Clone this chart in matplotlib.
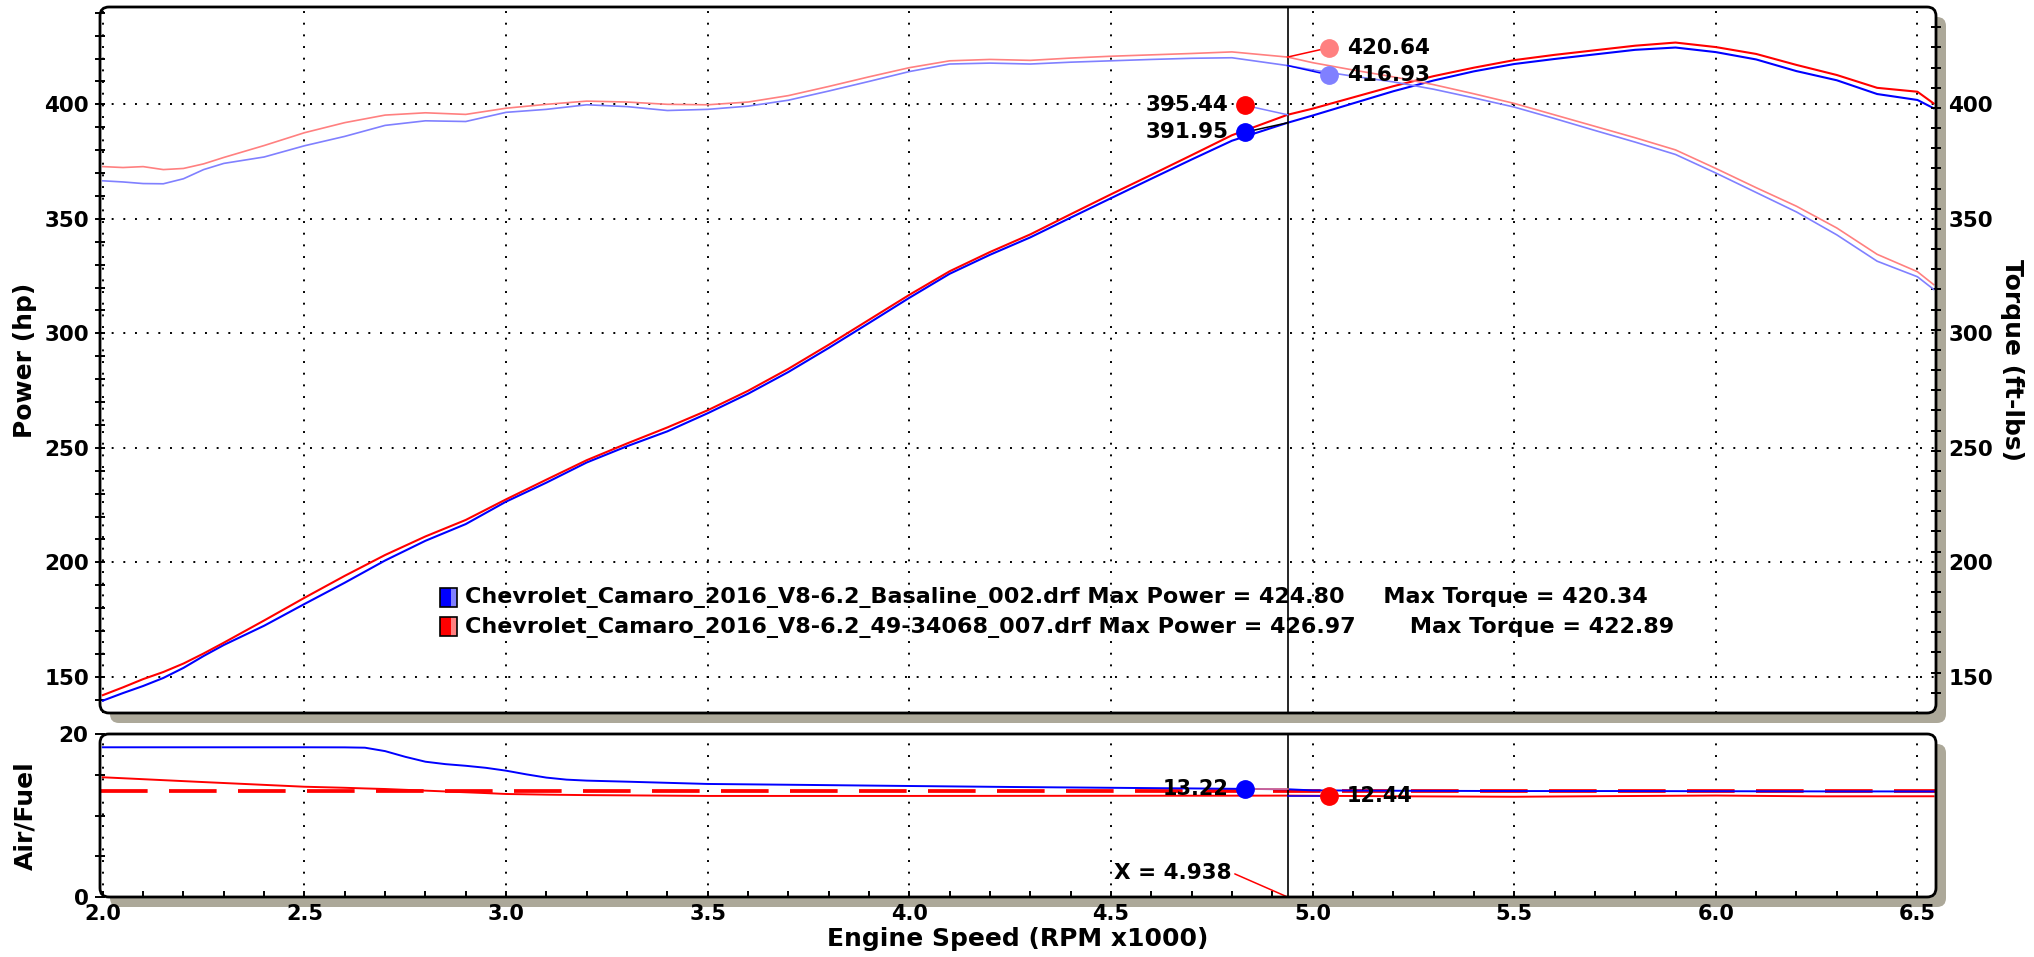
import numpy as np
import matplotlib
matplotlib.use('Agg')
import matplotlib.pyplot as plt
from matplotlib.patches import FancyBboxPatch, Rectangle
from matplotlib.transforms import IdentityTransform

plt.rcParams['font.family'] = ['DejaVu Sans']
plt.rcParams['font.weight'] = 'bold'

# engine speed (RPM x1000)
rpm = [2.00, 2.05, 2.10, 2.15, 2.20, 2.25, 2.30, 2.40, 2.50, 2.60,
       2.70, 2.80, 2.90, 3.00, 3.10, 3.20, 3.30, 3.40, 3.50, 3.60,
       3.70, 3.80, 3.90, 4.00, 4.10, 4.20, 4.30, 4.40, 4.50, 4.60,
       4.70, 4.80, 4.938, 5.00, 5.10, 5.20, 5.30, 5.40, 5.50, 5.60,
       5.70, 5.80, 5.90, 6.00, 6.10, 6.20, 6.30, 6.40, 6.50, 6.54]

# power (hp)
power_base = [139.6, 142.9, 146.0, 149.5, 153.9, 159.1, 163.9, 172.3, 181.8, 191.1,
              200.8, 209.4, 216.7, 226.5, 234.8, 243.6, 250.7, 257.2, 265.1, 273.6,
              283.1, 293.6, 304.5, 315.5, 326.0, 334.3, 341.9, 350.5, 359.0, 367.5,
              375.9, 384.1, 391.95, 395.1, 400.4, 405.7, 410.4, 414.4, 417.6, 419.8,
              421.8, 423.8, 424.80, 422.8, 419.6, 414.5, 410.5, 404.5, 401.9, 398.3]
power_new = [142.0, 145.4, 149.0, 152.1, 155.8, 160.2, 164.9, 174.6, 184.5, 194.1,
             203.2, 211.3, 218.5, 227.5, 236.1, 244.6, 251.9, 258.9, 266.4, 274.9,
             284.5, 295.0, 305.9, 316.8, 327.1, 335.5, 343.2, 352.0, 360.7, 369.2,
             377.8, 386.5, 395.44, 398.1, 403.0, 407.9, 412.3, 416.0, 419.3, 421.6,
             423.6, 425.6, 426.97, 425.0, 422.0, 417.2, 412.8, 407.2, 405.5, 400.4]

# torque (ft-lbs)
torque_base = [366.6, 366.1, 365.4, 365.3, 367.5, 371.5, 374.2, 377.0, 381.9, 386.0,
               390.8, 392.8, 392.5, 396.5, 397.8, 399.8, 399.0, 397.3, 397.8, 399.2,
               401.8, 405.8, 410.0, 414.3, 417.6, 418.0, 417.6, 418.4, 419.0, 419.6,
               420.1, 420.34, 416.93, 415.0, 412.3, 409.8, 406.6, 402.8, 398.8, 393.8,
               388.6, 383.5, 378.1, 370.0, 361.5, 353.0, 343.0, 331.5, 324.7, 319.2]
torque_new = [372.8, 372.4, 372.8, 371.5, 372.0, 374.0, 376.8, 382.0, 387.6, 392.0,
              395.3, 396.3, 395.6, 398.3, 400.0, 401.4, 401.0, 400.0, 399.8, 401.0,
              403.8, 407.8, 412.0, 416.0, 419.0, 419.6, 419.2, 420.2, 421.0, 421.6,
              422.2, 422.89, 420.64, 418.2, 415.0, 412.0, 408.6, 404.6, 400.4, 395.4,
              390.4, 385.4, 380.1, 372.0, 363.6, 355.5, 346.0, 334.5, 326.9, 321.3]

# air / fuel
afr_rpm = [2.0, 2.25, 2.5, 2.6, 2.65, 2.7, 2.75, 2.8, 2.85, 2.9,
           2.95, 3.0, 3.05, 3.1, 3.15, 3.2, 3.3, 3.5, 3.75, 4.0,
           4.25, 4.5, 4.75, 4.938, 5.0, 5.25, 5.5, 5.75, 6.0, 6.25, 6.54]
afr_base = [18.37, 18.37, 18.37, 18.36, 18.32, 17.9, 17.2, 16.6, 16.3, 16.1,
            15.85, 15.5, 15.05, 14.65, 14.4, 14.28, 14.15, 13.87, 13.75, 13.62,
            13.5, 13.4, 13.3, 13.22, 13.08, 13.03, 13.0, 13.0, 12.98, 12.96, 12.95]
afr_new = [14.69, 14.1, 13.53, 13.4, 13.32, 13.25, 13.15, 13.05, 12.95, 12.85,
           12.75, 12.64, 12.6, 12.56, 12.53, 12.5, 12.47, 12.4, 12.4, 12.4,
           12.41, 12.42, 12.43, 12.44, 12.42, 12.35, 12.3, 12.38, 12.45, 12.35, 12.36]
afr_target = 13.0

cursor = 4.938
runs = ['Chevrolet_Camaro_2016_V8-6.2_Basaline_002.drf',
        'Chevrolet_Camaro_2016_V8-6.2_49-34068_007.drf']
max_power = [424.80, 426.97]
max_torque = [420.34, 422.89]
gaps = ['     ', '       ']

x_ticks = [2.0, 2.5, 3.0, 3.5, 4.0, 4.5, 5.0, 5.5, 6.0, 6.5]
power_ticks = [150, 200, 250, 300, 350, 400]
torque_ticks = [150, 200, 250, 300, 350, 400]
afr_ticks = [0, 5, 10, 15, 20]
afr_labels = ['0', '', '', '', '20']

W, H, DPI = 2034, 957, 100
BLUE, RED = '#0000ff', '#ff0000'
LBLUE, LRED = '#8080ff', '#ff8080'
SHADOW = '#aca899'
DOTS = (0, (1, 5))
XLIM = (1.993, 6.546)
YLIM = (134.2, 442.5)

fig = plt.figure(figsize=(W / DPI, H / DPI), dpi=DPI)


def rect(l, t, r, b):
    return [l / W, 1 - b / H, (r - l) / W, (b - t) / H]


def add_box(l, t, r, b):
    # rounded frame with grey drop shadow, in pixels
    for dx, dy, fc, ec, z in [(10, -10, SHADOW, 'none', -3),
                              (0, 0, 'white', 'none', -2),
                              (0, 0, 'none', 'black', 10)]:
        p = FancyBboxPatch((l + dx, H - b + dy), r - l, b - t,
                           boxstyle='round,pad=0,rounding_size=9',
                           fc=fc, ec=ec, lw=2, transform=IdentityTransform(), zorder=z)
        fig.add_artist(p)


main_box = (100, 7, 1936, 713)
afr_box = (100, 734, 1936, 897)
add_box(*main_box)
add_box(*afr_box)

ax = fig.add_axes(rect(*main_box))
ax2 = ax.twinx()
ax3 = fig.add_axes(rect(*afr_box))
for a in (ax, ax2, ax3):
    a.set_facecolor('none')
    for s in a.spines.values():
        s.set_visible(False)

# main panel
ax.set_xlim(*XLIM)
ax.set_ylim(*YLIM)
ax2.set_ylim(*YLIM)
ax.set_xticks(x_ticks)
ax.tick_params(axis='x', which='both', bottom=False, labelbottom=False)
ax.set_yticks(power_ticks)
ax.set_yticks(np.arange(140, 441, 10), minor=True)
ax.tick_params(axis='y', which='both', direction='inout', length=7.7, width=1.4,
               pad=4, labelsize=15.5)
ax.grid(True, which='major', color='black', linestyle=DOTS, linewidth=1.4)

ax2.set_yticks(torque_ticks)
ax2.set_yticks(np.linspace(YLIM[0], YLIM[1], 36)[1:-1], minor=True)
ax2.tick_params(axis='y', which='major', length=0, pad=8.9, labelsize=15.5)
ax2.tick_params(axis='y', which='minor', direction='inout', length=7.7, width=1.4)

ax.plot(rpm, power_base, color=BLUE, lw=1.5, zorder=3)
ax.plot(rpm, power_new, color=RED, lw=1.5, zorder=3)
ax2.plot(rpm, torque_base, color=LBLUE, lw=1.2, zorder=3)
ax2.plot(rpm, torque_new, color=LRED, lw=1.2, zorder=3)
ax.axvline(cursor, color='black', lw=1.2, zorder=4)

# lower panel
ax3.set_xlim(*XLIM)
ax3.set_ylim(0, 20)
ax3.set_xticks(x_ticks)
ax3.set_xticklabels([f'{v:.1f}' for v in x_ticks])
ax3.set_xticks(np.arange(2.0, 6.55, 0.1), minor=True)
ax3.tick_params(axis='x', which='both', direction='in', length=4.3, width=1.4,
                pad=5, labelsize=15)
ax3.set_yticks(afr_ticks)
ax3.set_yticklabels(afr_labels)
ax3.tick_params(axis='y', which='both', direction='inout', length=7.7, width=1.4,
                pad=4.5, labelsize=15.5)
ax3.xaxis.grid(True, which='major', color='black', linestyle=DOTS, linewidth=1.4)

ax3.axhline(afr_target, color=RED, lw=2.7, linestyle=(0, (12.7, 5.7)), zorder=2)
ax3.plot(afr_rpm, afr_base, color=BLUE, lw=1.4, zorder=3)
ax3.plot(afr_rpm, afr_new, color=RED, lw=1.4, zorder=3)
ax3.axvline(cursor, color='black', lw=1.2, zorder=4)


def px(a, x, y):
    return a.transData.transform((x, y))


def tag(a, val, m, fc, lc, label, side, size):
    mx, my = a.transData.inverted().transform(m)
    a.plot([cursor, mx], [val, my], color=lc, lw=1.1, zorder=6, clip_on=False)
    a.plot(mx, my, 'o', ms=12.5, color=fc, zorder=7, clip_on=False)
    off = 18 if side == 'right' else -16
    tx, ty = a.transData.inverted().transform((m[0] + off, m[1]))
    a.text(tx, ty, label, ha='left' if side == 'right' else 'right', va='center',
           fontsize=size, zorder=8)


# cursor read-outs
tb = np.interp(cursor, rpm, torque_base)
tn = np.interp(cursor, rpm, torque_new)
pb = np.interp(cursor, rpm, power_base)
pn = np.interp(cursor, rpm, power_new)
c_tn, c_tb = px(ax2, cursor, tn), px(ax2, cursor, tb)
mid = (c_tn[1] + c_tb[1]) / 2
tag(ax2, tn, (c_tn[0] + 41, mid + 13.5), LRED, RED, f'{tn:.2f}', 'right', 15.5)
tag(ax2, tb, (c_tn[0] + 41, mid - 13.5), LBLUE, BLUE, f'{tb:.2f}', 'right', 15.5)
c_pn, c_pb = px(ax, cursor, pn), px(ax, cursor, pb)
mid = (c_pn[1] + c_pb[1]) / 2
tag(ax, pn, (c_pn[0] - 43, mid + 13.5), RED, LBLUE, f'{pn:.2f}', 'left', 15.5)
tag(ax, pb, (c_pn[0] - 43, mid - 13.5), BLUE, 'black', f'{pb:.2f}', 'left', 15.5)

ab = np.interp(cursor, afr_rpm, afr_base)
an = np.interp(cursor, afr_rpm, afr_new)
c_ab, c_an = px(ax3, cursor, ab), px(ax3, cursor, an)
tag(ax3, ab, (c_ab[0] - 43, c_ab[1]), BLUE, LRED, f'{ab:.2f}', 'left', 15)
tag(ax3, an, (c_an[0] + 41, c_an[1]), RED, BLUE, f'{an:.2f}', 'right', 15)

ax3.annotate(f'X = {cursor:.3f}', xy=(cursor, 0), xytext=(-40, 17.5),
             textcoords='offset points', ha='right', va='center', fontsize=15.5,
             arrowprops=dict(arrowstyle='-', color=RED, lw=1.1, shrinkA=0, shrinkB=0,
                             relpos=(1, 0.5)), annotation_clip=False)

# legend
for i, (name, dark, light) in enumerate([(runs[0], BLUE, LBLUE), (runs[1], RED, LRED)]):
    top = 588 + 29 * i
    fig.add_artist(Rectangle((440, H - top - 19), 11, 19, fc=dark, ec='none',
                             transform=IdentityTransform(), zorder=11))
    fig.add_artist(Rectangle((451, H - top - 19), 6, 19, fc=light, ec='none',
                             transform=IdentityTransform(), zorder=11))
    fig.add_artist(Rectangle((440, H - top - 19), 17, 19, fc='none', ec='black', lw=1.2,
                             transform=IdentityTransform(), zorder=12))
    fig.text(465 / W, 1 - (top + 10) / H,
             f'{name} Max Power = {max_power[i]:.2f}{gaps[i]}Max Torque = {max_torque[i]:.2f}',
             ha='left', va='center', fontsize=16, zorder=12)

fig.text(25 / W, 1 - 360 / H, 'Power (hp)', rotation=90, ha='center', va='center', fontsize=18)
fig.text(2012 / W, 1 - 360 / H, 'Torque (ft-lbs)', rotation=-90, ha='center', va='center',
         fontsize=18)
fig.text(25 / W, 1 - 816 / H, 'Air/Fuel', rotation=90, ha='center', va='center', fontsize=18)
fig.text(1018 / W, 1 - 939 / H, 'Engine Speed (RPM x1000)', ha='center', va='center',
         fontsize=18)

fig.savefig('out.png', dpi=DPI)
